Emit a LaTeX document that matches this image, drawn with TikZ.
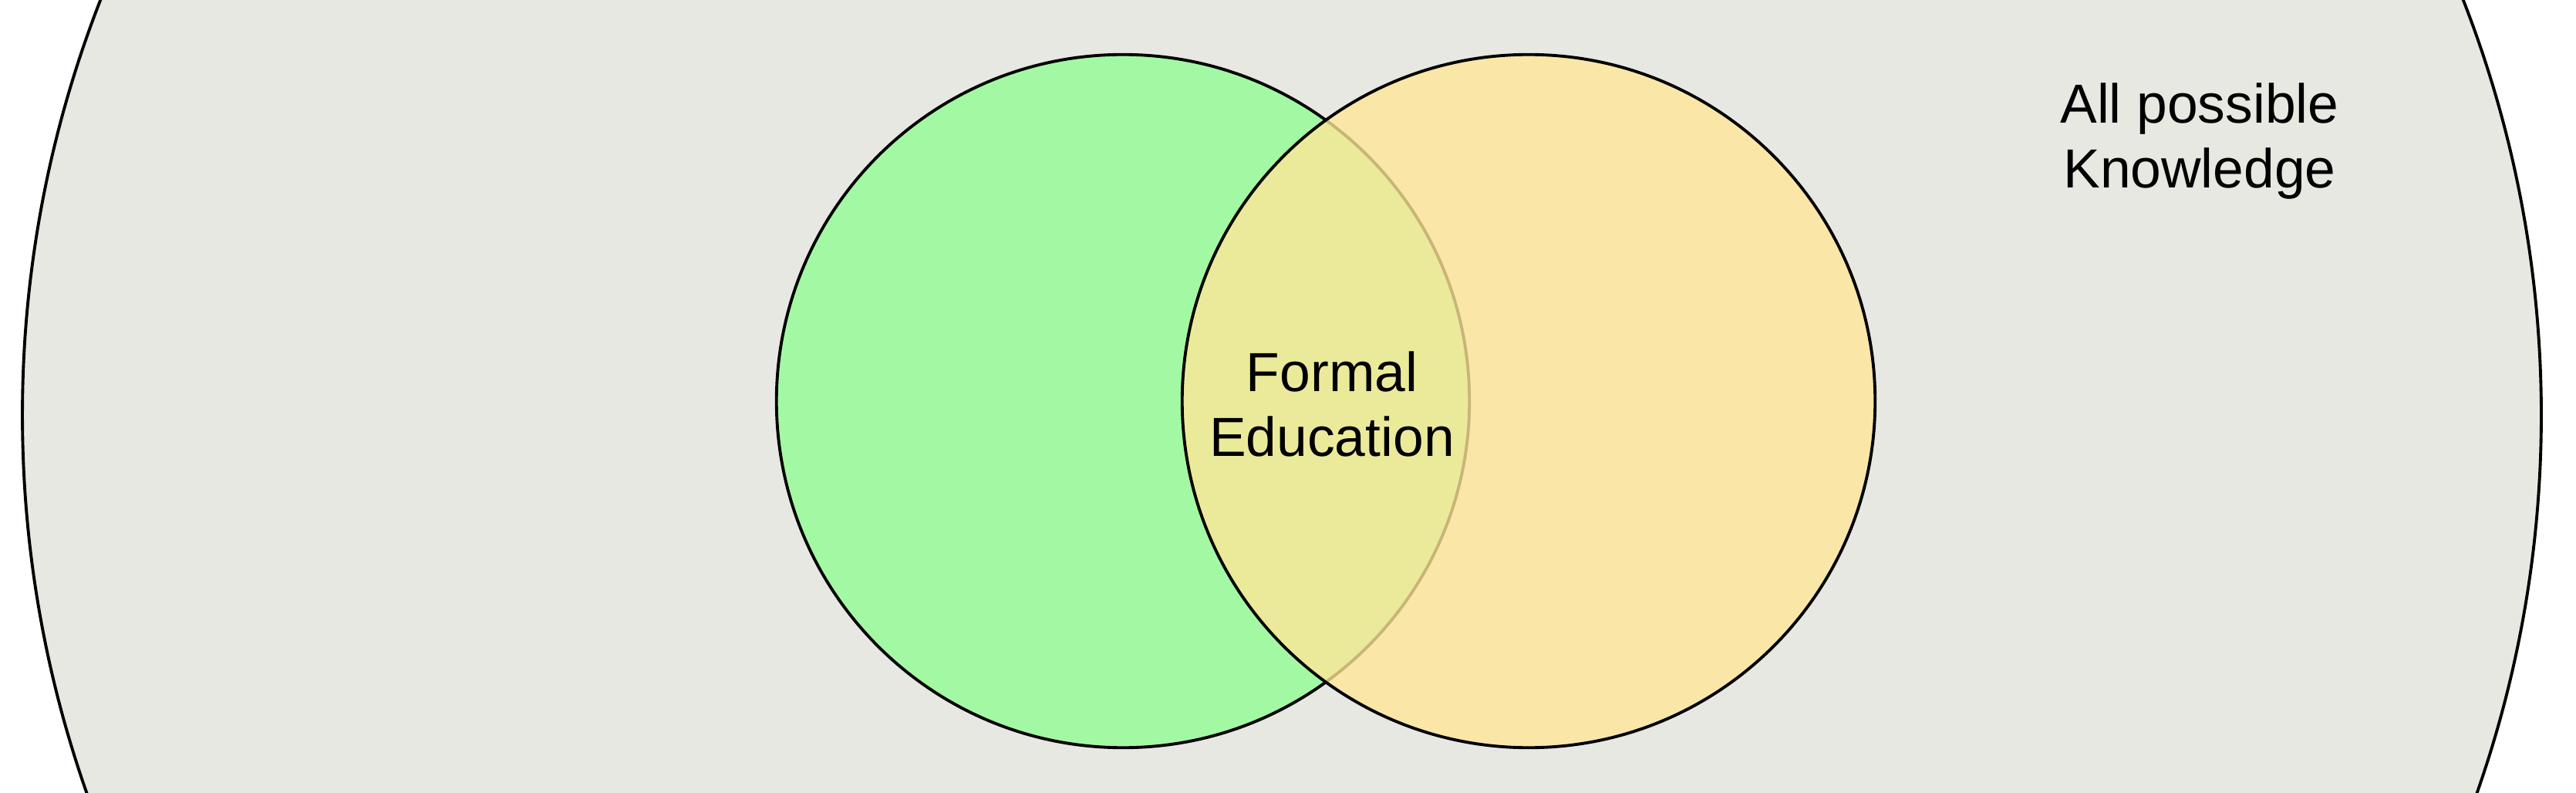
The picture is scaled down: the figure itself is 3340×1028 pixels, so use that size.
\documentclass[tikz,border=0pt]{standalone}
\usepackage{fontspec}
\setmainfont{Liberation Sans}
\usetikzlibrary{shapes.geometric}
\definecolor{knowgray}{RGB}{232,232,227}
\definecolor{setgreen}{RGB}{163,249,163}
\definecolor{setyellow}{RGB}{255,230,152}

\begin{document}
\begin{tikzpicture}[
    x=0.01cm, y=-0.01cm,
    blob/.style={circle, draw=black, line width=1.1pt, inner sep=0pt, minimum size=8.98cm},
    lbl/.style={align=center, font=\fontsize{20.3}{23.9}\selectfont, inner sep=0pt}
]
\useasboundingbox (0,0) rectangle (3340,1028);
\clip (0,0) rectangle (3340,1028);
\fill[white] (0,0) rectangle (3340,1028);
% outer set
\node[ellipse, draw=black, fill=knowgray, line width=1.1pt, inner sep=0pt,
      minimum width=32.64cm, minimum height=30.96cm] (know) at (1662,538) {};
% the two sets
\node[blob, fill=setgreen] (lset) at (1456,520) {};
\node[blob, fill=setyellow, fill opacity=0.79] (rset) at (1982,520) {};
% labels
\node[lbl] (formal) at (1727,524) {Formal\\Education};
\node[lbl] (allknow) at (2852,183) {All possible\\Knowledge};
\end{tikzpicture}
\end{document}
